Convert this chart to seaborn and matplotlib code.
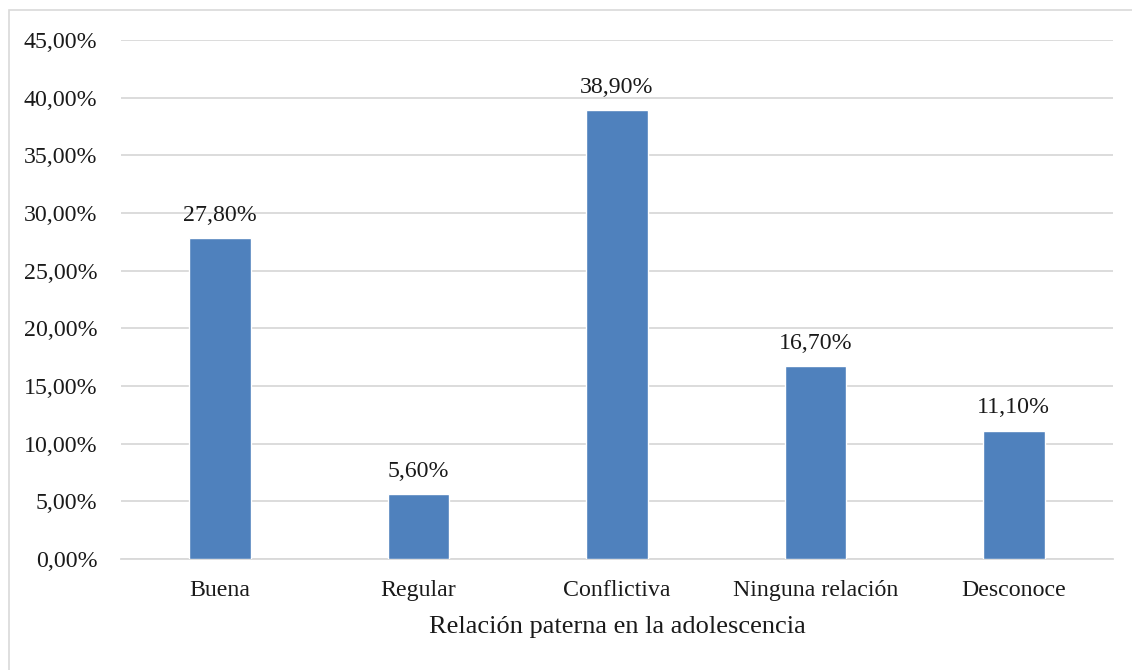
import matplotlib.pyplot as plt
import matplotlib.ticker as mticker
from matplotlib.patches import Rectangle
import seaborn as sns
import pandas as pd

# Datos del gráfico
categorias = ['Buena', 'Regular', 'Conflictiva', 'Ninguna relación', 'Desconoce']
porcentajes = [27.8, 5.6, 38.9, 16.7, 11.1]

sns.set_style('white')
plt.rcParams['font.family'] = ['Liberation Serif', 'DejaVu Serif']
plt.rcParams['font.size'] = 17

df = pd.DataFrame({'Relacion': categorias, 'Porcentaje': porcentajes})

fig = plt.figure(figsize=(11.32, 6.70), dpi=100)
ax = fig.add_axes([0.1069, 0.1657, 0.8763, 0.7746])

sns.barplot(data=df, x='Relacion', y='Porcentaje', color='#4f81bd',
            saturation=1, width=0.31, ax=ax, zorder=3)

# Etiquetas de datos sobre las barras
for i, v in enumerate(porcentajes):
    ax.annotate(f'{v:.2f}%'.replace('.', ','), (i, v), xytext=(0, 9),
                textcoords='offset points', ha='center', va='bottom',
                fontsize=17.2, color='#1a1a1a')

ax.set_ylim(0, 45)
ax.set_xlim(-0.5, 4.5)
ax.yaxis.set_major_locator(mticker.MultipleLocator(5))
ax.yaxis.set_major_formatter(mticker.FuncFormatter(
    lambda y, _: f'{y:.2f}%'.replace('.', ',')))
ax.grid(axis='y', color='#d9d9d9', linewidth=1.3, zorder=0)
ax.tick_params(axis='x', length=0, labelsize=17.2, colors='#1a1a1a', pad=15)
ax.tick_params(axis='y', length=0, labelsize=17.2, colors='#1a1a1a', pad=17)
for s in ['top', 'right', 'left']:
    ax.spines[s].set_visible(False)
ax.spines['bottom'].set_color('#d9d9d9')
ax.spines['bottom'].set_linewidth(1.3)

ax.set_xlabel('Relación paterna en la adolescencia', fontsize=19,
              color='#1a1a1a', labelpad=11)
ax.set_ylabel('')

# Borde del área del gráfico
fig.patches.append(Rectangle((0.008, -0.05), 1.1, 1.035,
                             transform=fig.transFigure, fill=False,
                             edgecolor='#d9d9d9', linewidth=1.2))

fig.savefig('out.png', dpi=100)
